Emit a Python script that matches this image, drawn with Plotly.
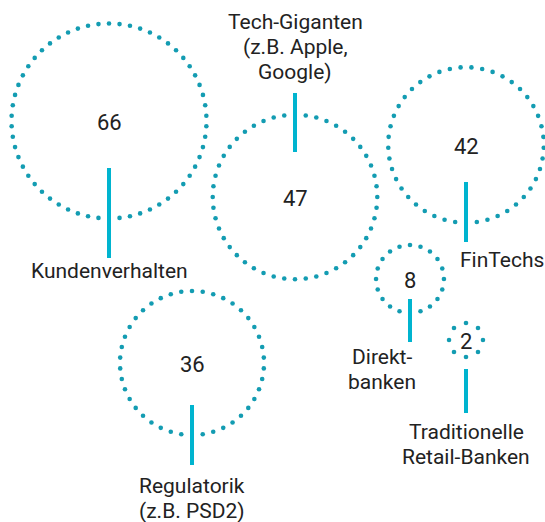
import numpy as np
import plotly.graph_objects as go

# data
categories = ["Kundenverhalten", "Tech-Giganten<br>(z.B. Apple,<br>Google)", "FinTechs",
              "Regulatorik<br>(z.B. PSD2)", "Direkt-<br>banken", "Traditionelle<br>Retail-Banken"]
values = [66, 47, 42, 36, 8, 2]

# layout of the bubbles (page pixels)
cx = [109, 295, 466, 192, 410, 466]
cy = [121, 197, 145, 363, 279, 340]
line_from = [47, -104, 37, 42, 20, 29]
line_to = [137, -45, 97, 102, 63, 73]
label_x = [109, 295, 502, 192, 382, 466]
label_y = [271, 47, 260, 498, 369, 444]
n_dots = [58, 48, 45, 42, 20, 8]

DOT = "#139cb2"
BAR = "#00b4cf"
TXT = "#222222"
FONT = "Roboto"
LINE_H = 25


def circle_dots(x0, y0, r, n, line_span):
  a, b = line_span
  # angle where the bar crosses the circle (bottom or top)
  if a <= r <= b:
    start = np.pi / 2
    skip = True
  elif a <= -r <= b:
    start = -np.pi / 2
    skip = True
  else:
    start = np.pi / 2
    skip = False
  ang = start + 2 * np.pi * np.arange(n) / n
  if skip:
    ang = ang[1:]
  return x0 + r * np.cos(ang), y0 + r * np.sin(ang)


fig = go.Figure()
annotations = []
for i, v in enumerate(values):
  r = 12 * np.sqrt(v)
  xs, ys = circle_dots(cx[i], cy[i], r, n_dots[i], (line_from[i], line_to[i]))
  fig.add_trace(go.Scatter(
    x=xs, y=ys, mode="markers",
    marker=dict(size=4.6, color=DOT, line=dict(width=0)),
    hoverinfo="skip", showlegend=False
  ))
  fig.add_trace(go.Scatter(
    x=[cx[i], cx[i]], y=[cy[i] + line_from[i], cy[i] + line_to[i]],
    mode="lines", line=dict(color=BAR, width=4),
    hoverinfo="skip", showlegend=False
  ))
  annotations.append(dict(
    x=cx[i], y=cy[i] + 1, text=str(v), showarrow=False,
    xanchor="center", yanchor="middle",
    font=dict(family=FONT, size=22, color=TXT)
  ))
  parts = categories[i].split("<br>")
  for k, part in enumerate(parts):
    annotations.append(dict(
      x=label_x[i], y=label_y[i] + (k - (len(parts) - 1) / 2) * LINE_H,
      text=part, showarrow=False,
      xanchor="center", yanchor="middle",
      font=dict(family=FONT, size=21, color=TXT)
    ))

fig.update_layout(
  width=545, height=522,
  margin=dict(l=0, r=0, t=0, b=0),
  paper_bgcolor="white", plot_bgcolor="white",
  xaxis=dict(range=[0, 545], visible=False, fixedrange=True),
  yaxis=dict(range=[522, 0], visible=False, fixedrange=True),
  annotations=annotations,
  showlegend=False
)

fig.write_html("out.html", config={"displayModeBar": False},
               post_script="document.body.style.margin='0';document.body.style.overflow='hidden';")
